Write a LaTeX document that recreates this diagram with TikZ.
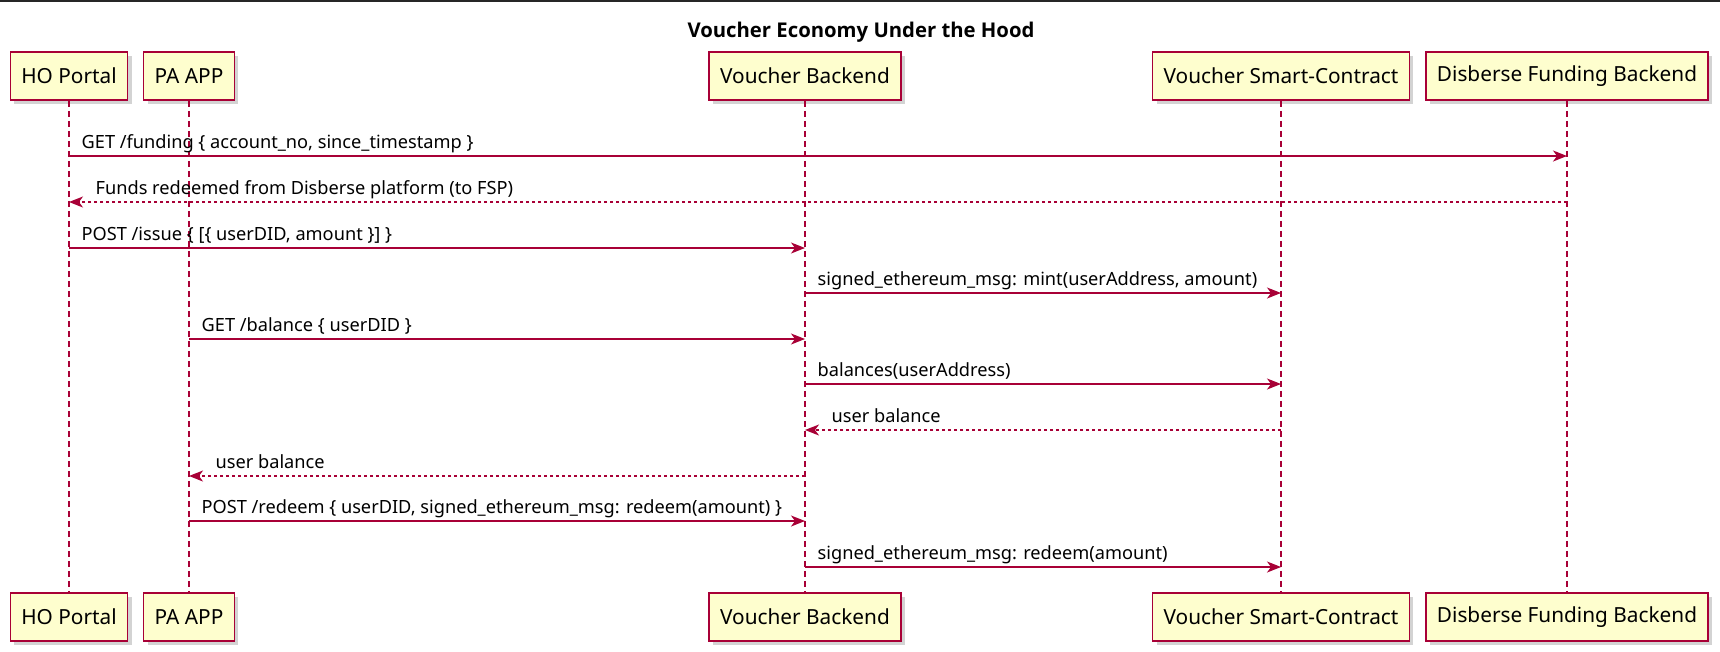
\documentclass[tikz,border=0pt]{standalone}
\usepackage{fontspec}
\setmainfont{Noto Sans}
\newfontfamily\titlefont{Open Sans}
\usetikzlibrary{arrows.meta,shadows}

\definecolor{umlred}{HTML}{A80036}
\definecolor{umlfill}{HTML}{FEFECE}

\begin{document}
\begin{tikzpicture}[x=1pt, y=-1pt]
\tikzstyle{actorbox}=[rectangle, draw=umlred, line width=1.6pt, fill=umlfill, minimum height=48pt, inner xsep=11pt, font=\fontsize{20.8}{24}\selectfont, drop shadow={shadow xshift=4pt, shadow yshift=-4pt, opacity=0.35}]
\tikzstyle{lifeline}=[umlred, line width=1.1pt, dash pattern=on 6pt off 4pt]
\tikzstyle{callstyle}=[umlred, line width=1.3pt, -{Stealth[length=14pt, width=11pt, inset=4pt]}]
\tikzstyle{replystyle}=[callstyle, dash pattern=on 3pt off 3pt]
\tikzstyle{msglabel}=[text=black, font=\fontsize{18.2}{21}\selectfont, inner sep=0pt, anchor=base west]

\useasboundingbox (0,0) rectangle (1720,651);
\draw[line width=1.5pt, black!85] (0,0.8) -- (1720,0.8);

% title
\node[font=\titlefont\bfseries\fontsize{20.3}{24}\selectfont] (title) at (861,32) {Voucher Economy Under the Hood};

% participants
\node[actorbox] (HOtop) at (69,76) {HO Portal};
\node[actorbox] (PAtop) at (189,76) {PA APP};
\node[actorbox] (VBtop) at (805,76) {Voucher Backend};
\node[actorbox] (SCtop) at (1281,76) {Voucher Smart-Contract};
\node[actorbox] (DBtop) at (1567,76) {Disberse Funding Backend};
\node[actorbox] (HObot) at (69,617) {HO Portal};
\node[actorbox] (PAbot) at (189,617) {PA APP};
\node[actorbox] (VBbot) at (805,617) {Voucher Backend};
\node[actorbox] (SCbot) at (1281,617) {Voucher Smart-Contract};
\node[actorbox] (DBbot) at (1567,617) {Disberse Funding Backend};

% lifelines
\draw[lifeline] (HOtop) -- (HObot);
\draw[lifeline] (PAtop) -- (PAbot);
\draw[lifeline] (VBtop) -- (VBbot);
\draw[lifeline] (SCtop) -- (SCbot);
\draw[lifeline] (DBtop) -- (DBbot);

% message rows
\coordinate (m1) at (0,156);
\coordinate (m2) at (0,202);
\coordinate (m3) at (0,248);
\coordinate (m4) at (0,293);
\coordinate (m5) at (0,339);
\coordinate (m6) at (0,384);
\coordinate (m7) at (0,430);
\coordinate (m8) at (0,476);
\coordinate (m9) at (0,521);
\coordinate (m10) at (0,567);

\draw[callstyle] (HOtop |- m1) -- (DBtop |- m1) node[msglabel, at start, xshift=12pt, yshift=8pt] {GET /funding \{ account\_no, since\_timestamp \}};
\draw[replystyle] (DBtop |- m2) -- (HOtop |- m2) node[msglabel, at end, xshift=26pt, yshift=8pt] {Funds redeemed from Disberse platform (to FSP)};
\draw[callstyle] (HOtop |- m3) -- (VBtop |- m3) node[msglabel, at start, xshift=12pt, yshift=8pt] {POST /issue \{ [\{ userDID, amount \}] \}};
\draw[callstyle] (VBtop |- m4) -- (SCtop |- m4) node[msglabel, at start, xshift=12pt, yshift=8pt] {signed\_ethereum\_msg: mint(userAddress, amount)};
\draw[callstyle] (PAtop |- m5) -- (VBtop |- m5) node[msglabel, at start, xshift=12pt, yshift=8pt] {GET /balance \{ userDID \}};
\draw[callstyle] (VBtop |- m6) -- (SCtop |- m6) node[msglabel, at start, xshift=12pt, yshift=8pt] {balances(userAddress)};
\draw[replystyle] (SCtop |- m7) -- (VBtop |- m7) node[msglabel, at end, xshift=26pt, yshift=8pt] {user balance};
\draw[replystyle] (VBtop |- m8) -- (PAtop |- m8) node[msglabel, at end, xshift=26pt, yshift=8pt] {user balance};
\draw[callstyle] (PAtop |- m9) -- (VBtop |- m9) node[msglabel, at start, xshift=12pt, yshift=8pt] {POST /redeem \{ userDID, signed\_ethereum\_msg: redeem(amount) \}};
\draw[callstyle] (VBtop |- m10) -- (SCtop |- m10) node[msglabel, at start, xshift=12pt, yshift=8pt] {signed\_ethereum\_msg: redeem(amount)};
\end{tikzpicture}
\end{document}
